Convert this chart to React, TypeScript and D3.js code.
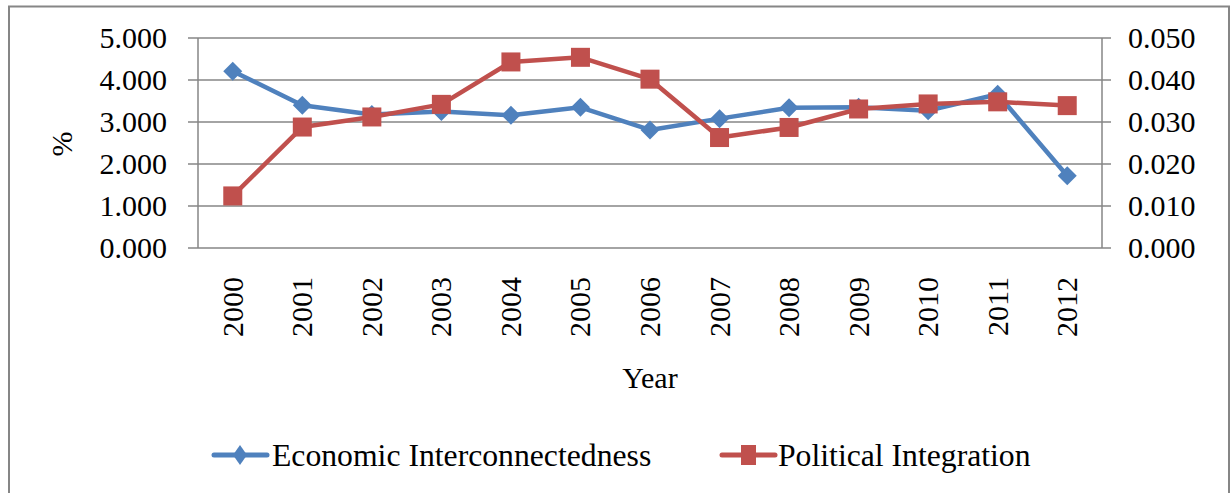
import React from "react";
import * as d3 from "d3";

const years = ["2000","2001","2002","2003","2004","2005","2006","2007","2008","2009","2010","2011","2012"];
const economic = [4.21, 3.40, 3.18, 3.25, 3.16, 3.35, 2.81, 3.08, 3.34, 3.35, 3.27, 3.66, 1.72];
const political = [0.0124, 0.0288, 0.0312, 0.0342, 0.0443, 0.0454, 0.0402, 0.0263, 0.0287, 0.0331, 0.0343, 0.0348, 0.0339];
const leftTicks = [0, 1, 2, 3, 4, 5];
const rightTicks = [0, 0.01, 0.02, 0.03, 0.04, 0.05];

const BLUE = "#4F81BD";
const RED = "#C0504D";
const GRID = "#868686";
const FONT = "'Liberation Serif', 'Times New Roman', serif";

export default function App() {
  const W = 1230, H = 493;
  const x0 = 198, x1 = 1102, yTop = 38, yBot = 248;
  const x = d3.scalePoint<string>().domain(years).range([x0, x1]).padding(0.5);
  const yL = d3.scaleLinear().domain([0, 5]).range([yBot, yTop]);
  const yR = d3.scaleLinear().domain([0, 0.05]).range([yBot, yTop]);

  const lineL = d3.line<number>().x((_, i) => x(years[i])!).y((d) => yL(d));
  const lineR = d3.line<number>().x((_, i) => x(years[i])!).y((d) => yR(d));

  const dia = (cx: number, cy: number, rx: number, ry: number) =>
    `M${cx},${cy - ry}L${cx + rx},${cy}L${cx},${cy + ry}L${cx - rx},${cy}Z`;

  return (
    <svg width={W} height={H} style={{ position: "absolute", left: 0, top: 0, background: "#fff" }} fontFamily={FONT}>
      <rect x={0} y={0} width={W} height={H} fill="#fff" />
      {/* outer border */}
      <path d={`M9,${H + 5}V6.5H1229V${H + 5}`} fill="none" stroke={GRID} strokeWidth={2} />
      {/* gridlines */}
      {leftTicks.map((t) => (
        <line key={"g" + t} x1={x0} x2={x1} y1={yL(t)} y2={yL(t)} stroke={GRID} strokeWidth={1.5} />
      ))}
      {/* axes */}
      <line x1={x0} x2={x0} y1={yTop} y2={yBot} stroke={GRID} strokeWidth={1.5} />
      <line x1={x1} x2={x1} y1={yTop} y2={yBot} stroke={GRID} strokeWidth={1.5} />
      {leftTicks.map((t) => (
        <line key={"lt" + t} x1={188} x2={x0} y1={yL(t)} y2={yL(t)} stroke={GRID} strokeWidth={1.5} />
      ))}
      {rightTicks.map((t) => (
        <line key={"rt" + t} x1={x1} x2={1111} y1={yR(t)} y2={yR(t)} stroke={GRID} strokeWidth={1.5} />
      ))}
      {/* left tick labels */}
      {leftTicks.map((t) => (
        <text key={"ll" + t} x={167} y={yL(t)} dy="0.34em" textAnchor="end" fontSize={30} fill="#000">
          {d3.format(".3f")(t)}
        </text>
      ))}
      {/* right tick labels */}
      {rightTicks.map((t) => (
        <text key={"rl" + t} x={1128} y={yR(t)} dy="0.34em" textAnchor="start" fontSize={30} fill="#000">
          {d3.format(".3f")(t)}
        </text>
      ))}
      {/* x labels */}
      {years.map((yr) => (
        <text key={"x" + yr} transform={`translate(${x(yr)! + 10},277) rotate(-90)`} textAnchor="end" fontSize={30} fill="#000">
          {yr}
        </text>
      ))}
      <text x={650} y={388} textAnchor="middle" fontSize={30} fill="#000">Year</text>
      <text transform="translate(72,144) rotate(-90)" textAnchor="middle" fontSize={30} fill="#000">%</text>
      {/* series */}
      <path d={lineL(economic)!} fill="none" stroke={BLUE} strokeWidth={4.5} strokeLinejoin="round" strokeLinecap="round" />
      {economic.map((v, i) => (
        <path key={"d" + i} d={dia(x(years[i])!, yL(v), 9.5, 9.5)} fill={BLUE} />
      ))}
      <path d={lineR(political)!} fill="none" stroke={RED} strokeWidth={4.5} strokeLinejoin="round" strokeLinecap="round" />
      {political.map((v, i) => (
        <rect key={"s" + i} x={x(years[i])! - 9.5} y={yR(v) - 9.5} width={19} height={19} fill={RED} />
      ))}
      {/* legend */}
      <line x1={214} x2={267} y1={455} y2={455} stroke={BLUE} strokeWidth={5} strokeLinecap="round" />
      <path d={dia(240, 455, 7, 10)} fill={BLUE} />
      <text x={272} y={466} fontSize={31.7} fill="#000">Economic Interconnectedness</text>
      <line x1={722} x2={775} y1={455} y2={455} stroke={RED} strokeWidth={5} strokeLinecap="round" />
      <rect x={741} y={445} width={15} height={20} fill={RED} />
      <text x={778} y={466} fontSize={31.7} fill="#000">Political Integration</text>
    </svg>
  );
}
